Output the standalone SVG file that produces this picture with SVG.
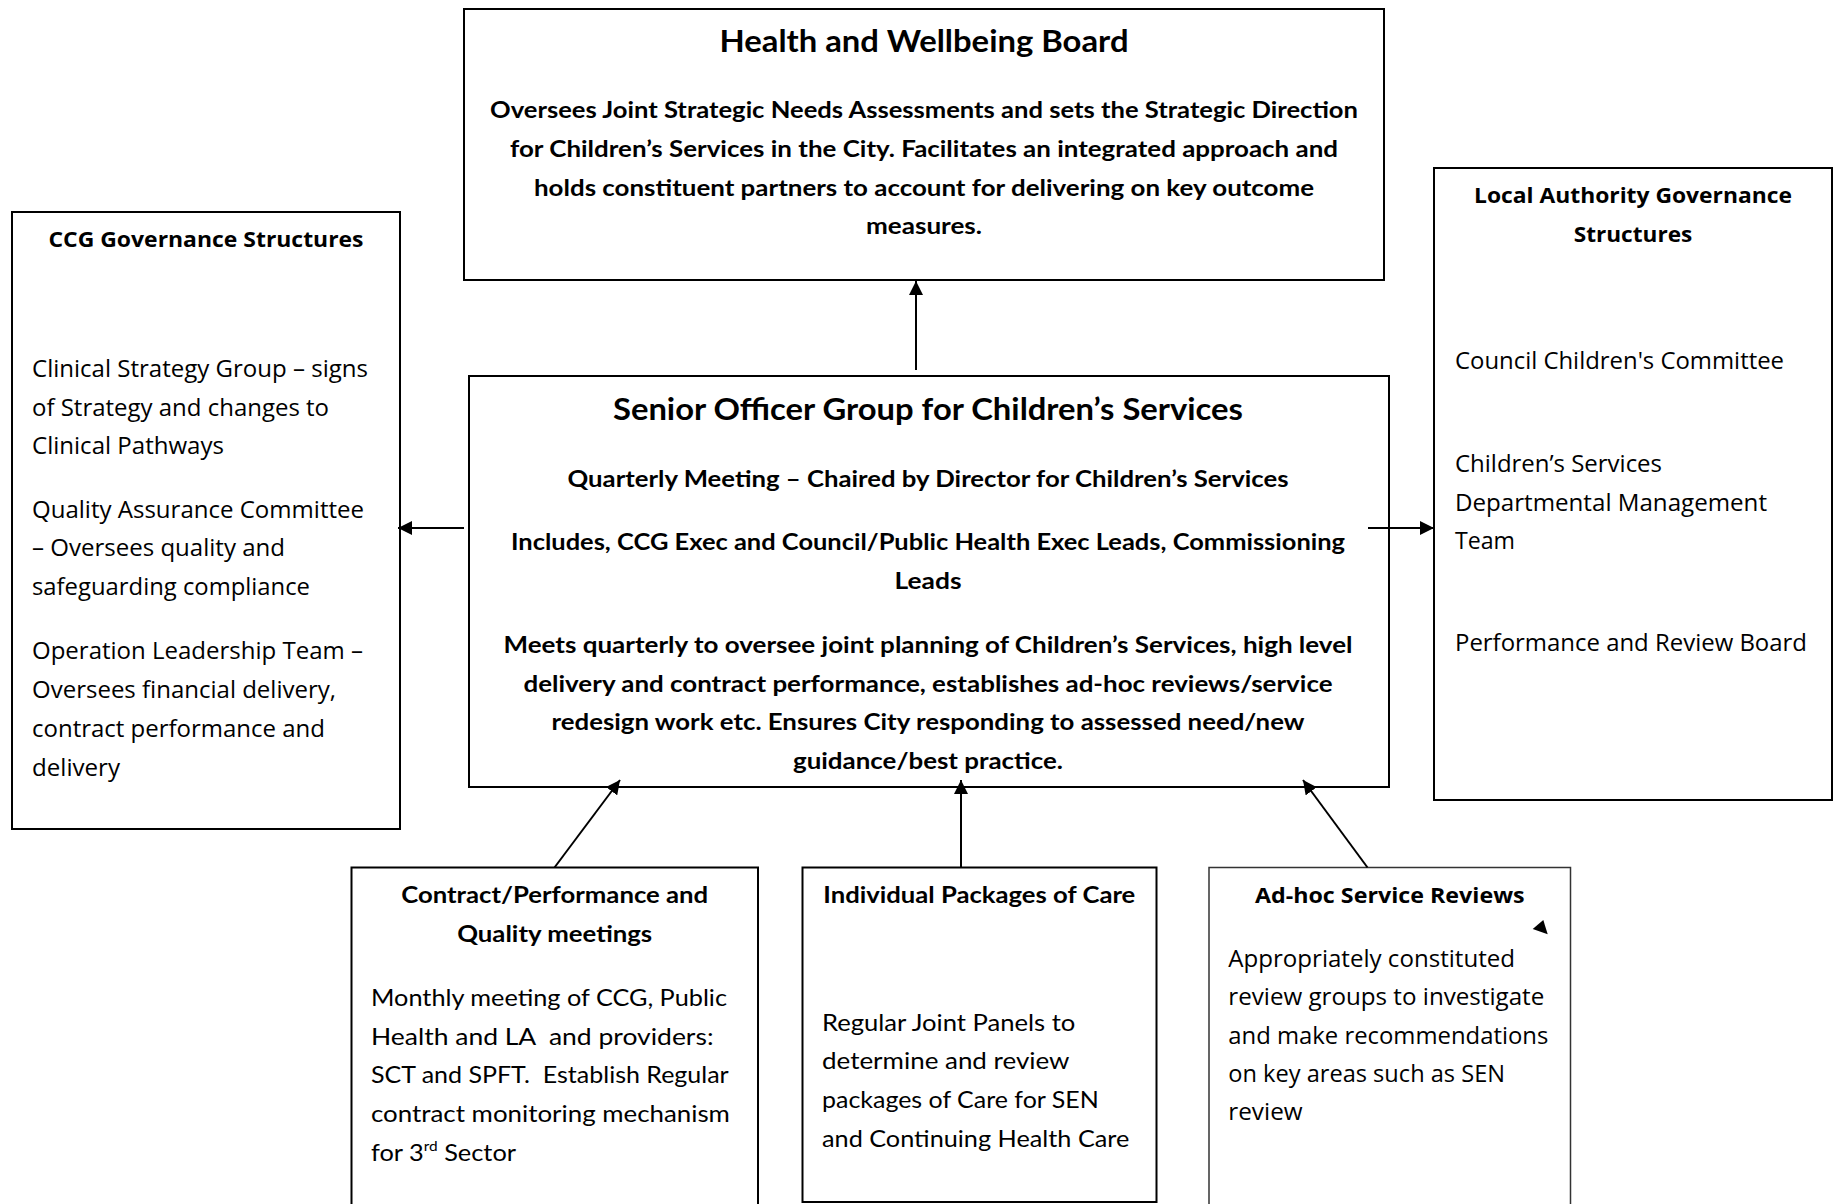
<svg xmlns="http://www.w3.org/2000/svg" width="1839" height="1204" viewBox="0 0 1839 1204">
<defs>
<style>
.box{fill:#fff;stroke:#000;stroke-width:2}
.thin{fill:#fff;stroke:#333;stroke-width:1.5}
.conn{stroke:#000;stroke-width:2;fill:none}
.bt{font-family:Lato,"Liberation Sans",sans-serif;font-weight:bold;font-size:31px;fill:#000}
.bb{font-family:Lato,"Liberation Sans",sans-serif;font-weight:bold;font-size:23px;fill:#000}
.lr{font-family:Lato,"Liberation Sans",sans-serif;font-size:23px;fill:#000}
.ob{font-family:"Open Sans","Liberation Sans",sans-serif;font-weight:bold;font-size:22px;fill:#000}
.or{font-family:"Open Sans","Liberation Sans",sans-serif;font-size:23px;fill:#000}
.c{text-anchor:middle}
</style>
<marker id="ah" viewBox="0 0 14 14" refX="14" refY="7" markerWidth="14" markerHeight="14" markerUnits="userSpaceOnUse" orient="auto">
<path d="M0,0 L14,7 L0,14 Z" fill="#000"/>
</marker>
</defs>
<rect width="1839" height="1204" fill="#fff"/>

<g id="hwb">
<rect class="box" x="464" y="9" width="920" height="271"/>
<text class="bt c" x="924" y="52" textLength="409" lengthAdjust="spacingAndGlyphs">Health and Wellbeing Board</text>
<text class="bb c" x="924" y="118" textLength="868" lengthAdjust="spacingAndGlyphs">Oversees Joint Strategic Needs Assessments and sets the Strategic Direction</text>
<text class="bb c" x="924" y="156.8" textLength="828" lengthAdjust="spacingAndGlyphs">for Children’s Services in the City. Facilitates an integrated approach and</text>
<text class="bb c" x="924" y="195.6" textLength="780" lengthAdjust="spacingAndGlyphs">holds constituent partners to account for delivering on key outcome</text>
<text class="bb c" x="924" y="234.4" textLength="116" lengthAdjust="spacingAndGlyphs">measures.</text>
</g>

<g id="sog">
<rect class="box" x="469" y="376" width="920" height="411"/>
<text class="bt c" x="928" y="420" textLength="630" lengthAdjust="spacingAndGlyphs">Senior Officer Group for Children’s Services</text>
<text class="bb c" x="928" y="487" textLength="721" lengthAdjust="spacingAndGlyphs">Quarterly Meeting – Chaired by Director for Children’s Services</text>
<text class="bb c" x="928" y="550" textLength="834" lengthAdjust="spacingAndGlyphs">Includes, CCG Exec and Council/Public Health Exec Leads, Commissioning</text>
<text class="bb c" x="928" y="588.7" textLength="67" lengthAdjust="spacingAndGlyphs">Leads</text>
<text class="bb c" x="928" y="653" textLength="849" lengthAdjust="spacingAndGlyphs">Meets quarterly to oversee joint planning of Children’s Services, high level</text>
<text class="bb c" x="928" y="691.7" textLength="809" lengthAdjust="spacingAndGlyphs">delivery and contract performance, establishes ad-hoc reviews/service</text>
<text class="bb c" x="928" y="730.4" textLength="753" lengthAdjust="spacingAndGlyphs">redesign work etc. Ensures City responding to assessed need/new</text>
<text class="bb c" x="928" y="769.1" textLength="270" lengthAdjust="spacingAndGlyphs">guidance/best practice.</text>
</g>

<g id="ccg">
<rect class="box" x="12" y="212" width="388" height="617"/>
<text class="ob c" x="206" y="247" textLength="315" lengthAdjust="spacingAndGlyphs">CCG Governance Structures</text>
<text class="or" x="32" y="376.8" textLength="336" lengthAdjust="spacingAndGlyphs">Clinical Strategy Group – signs</text>
<text class="or" x="32" y="415.5" textLength="297" lengthAdjust="spacingAndGlyphs">of Strategy and changes to</text>
<text class="or" x="32" y="454" textLength="192" lengthAdjust="spacingAndGlyphs">Clinical Pathways</text>
<text class="or" x="32" y="517.5" textLength="332" lengthAdjust="spacingAndGlyphs">Quality Assurance Committee</text>
<text class="or" x="32" y="556.2" textLength="253" lengthAdjust="spacingAndGlyphs">– Oversees quality and</text>
<text class="or" x="32" y="594.9" textLength="278" lengthAdjust="spacingAndGlyphs">safeguarding compliance</text>
<text class="or" x="32" y="659.4" textLength="331" lengthAdjust="spacingAndGlyphs">Operation Leadership Team –</text>
<text class="or" x="32" y="698.1" textLength="304" lengthAdjust="spacingAndGlyphs">Oversees financial delivery,</text>
<text class="or" x="32" y="736.8" textLength="293" lengthAdjust="spacingAndGlyphs">contract performance and</text>
<text class="or" x="32" y="775.5" textLength="88" lengthAdjust="spacingAndGlyphs">delivery</text>
</g>

<g id="la">
<rect class="box" x="1434" y="168" width="398" height="632"/>
<text class="ob c" x="1633" y="203" textLength="318" lengthAdjust="spacingAndGlyphs">Local Authority Governance</text>
<text class="ob c" x="1633" y="242" textLength="118.5" lengthAdjust="spacingAndGlyphs">Structures</text>
<text class="or" x="1455" y="368.5" textLength="329" lengthAdjust="spacingAndGlyphs">Council Children's Committee</text>
<text class="or" x="1455" y="471.8" textLength="207" lengthAdjust="spacingAndGlyphs">Children’s Services</text>
<text class="or" x="1455" y="510.5" textLength="312" lengthAdjust="spacingAndGlyphs">Departmental Management</text>
<text class="or" x="1455" y="549.2" textLength="60" lengthAdjust="spacingAndGlyphs">Team</text>
<text class="or" x="1455" y="651.2" textLength="352" lengthAdjust="spacingAndGlyphs">Performance and Review Board</text>
</g>

<g id="contract">
<rect class="box" x="351.5" y="867.5" width="406.5" height="345"/>
<text class="bb c" x="554.7" y="903" textLength="307" lengthAdjust="spacingAndGlyphs">Contract/Performance and</text>
<text class="bb c" x="554.7" y="941.7" textLength="195" lengthAdjust="spacingAndGlyphs">Quality meetings</text>
<text class="lr" x="371" y="1006" textLength="356" lengthAdjust="spacingAndGlyphs">Monthly meeting of CCG, Public</text>
<text class="lr" x="371" y="1044.7" textLength="342.5" lengthAdjust="spacingAndGlyphs" xml:space="preserve">Health and LA  and providers:</text>
<text class="lr" x="371" y="1083.4" textLength="357.7" lengthAdjust="spacingAndGlyphs" xml:space="preserve">SCT and SPFT.  Establish Regular</text>
<text class="lr" x="371" y="1122.1" textLength="358.9" lengthAdjust="spacingAndGlyphs">contract monitoring mechanism</text>
<text class="lr" x="371" y="1160.8" textLength="145" lengthAdjust="spacingAndGlyphs">for 3<tspan font-size="14" dy="-10">rd</tspan><tspan dy="10"> Sector</tspan></text>
</g>

<g id="individual">
<rect class="box" x="802.5" y="867.5" width="354" height="334.5"/>
<text class="bb c" x="979.3" y="903" textLength="312" lengthAdjust="spacingAndGlyphs">Individual Packages of Care</text>
<text class="lr" x="822" y="1030.7" textLength="253.3" lengthAdjust="spacingAndGlyphs">Regular Joint Panels to</text>
<text class="lr" x="822" y="1069.4" textLength="247.5" lengthAdjust="spacingAndGlyphs">determine and review</text>
<text class="lr" x="822" y="1108.1" textLength="276.8" lengthAdjust="spacingAndGlyphs">packages of Care for SEN</text>
<text class="lr" x="822" y="1146.8" textLength="307.3" lengthAdjust="spacingAndGlyphs">and Continuing Health Care</text>
</g>

<g id="adhoc">
<rect class="thin" x="1209" y="867.5" width="361.5" height="345"/>
<text class="ob c" x="1389.8" y="903" textLength="269.7" lengthAdjust="spacingAndGlyphs">Ad-hoc Service Reviews</text>
<text class="or" x="1228.3" y="967" textLength="286.7" lengthAdjust="spacingAndGlyphs">Appropriately constituted</text>
<text class="or" x="1228.3" y="1005.2" textLength="316" lengthAdjust="spacingAndGlyphs">review groups to investigate</text>
<text class="or" x="1228.3" y="1043.6" textLength="320" lengthAdjust="spacingAndGlyphs">and make recommendations</text>
<text class="or" x="1228.3" y="1082" textLength="276.7" lengthAdjust="spacingAndGlyphs">on key areas such as SEN</text>
<text class="or" x="1228.3" y="1120.4" textLength="74.3" lengthAdjust="spacingAndGlyphs">review</text>
</g>

<g id="connectors">
<line class="conn" x1="916" y1="370" x2="916" y2="281" marker-end="url(#ah)"/>
<line class="conn" x1="464" y1="528" x2="398" y2="528" marker-end="url(#ah)"/>
<line class="conn" x1="1368" y1="528" x2="1434" y2="528" marker-end="url(#ah)"/>
<line class="conn" x1="554.5" y1="867.5" x2="620" y2="780" marker-end="url(#ah)"/>
<line class="conn" x1="961" y1="867.5" x2="961" y2="780" marker-end="url(#ah)"/>
<line class="conn" x1="1367.5" y1="867.5" x2="1303" y2="780" marker-end="url(#ah)"/>
<polygon points="1532.7,929 1543.3,920 1547.7,934.3" fill="#000"/>
</g>
</svg>
